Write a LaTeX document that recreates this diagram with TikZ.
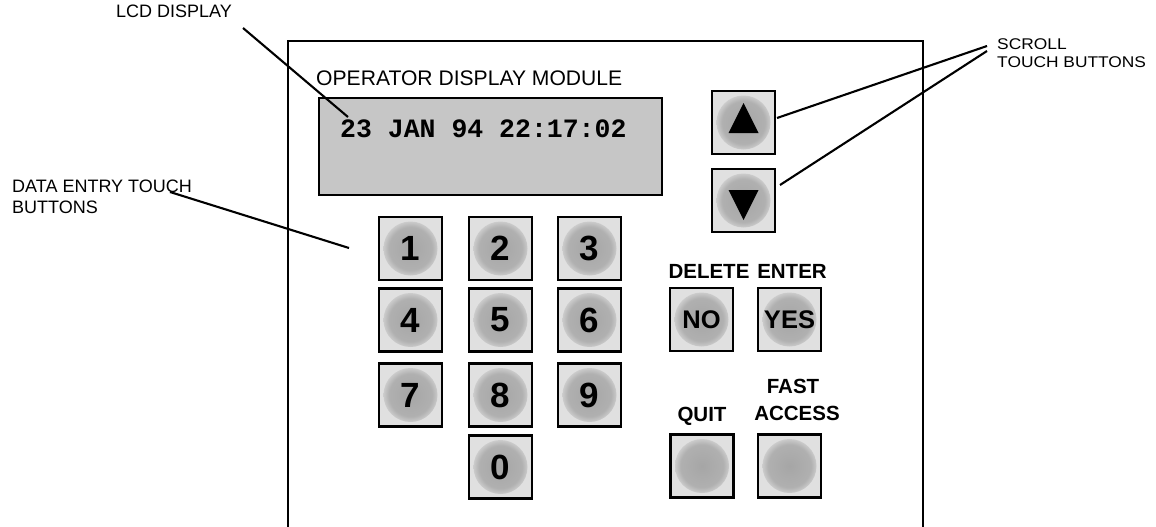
\documentclass[tikz,border=0pt]{standalone}
\usepackage{fontspec}
\setmainfont{Liberation Sans}
\newfontfamily\lcdfont{Liberation Mono}
\newfontfamily\widesans[FakeStretch=1.12]{Liberation Sans}

% soft grey dot printed on each touch button
\pgfdeclareradialshading{keydot}{\pgfpoint{0bp}{0bp}}{%
  color(0bp)=(gray!70); color(17bp)=(gray!62); color(25bp)=(gray!24); color(50bp)=(gray!24)}

\tikzset{
  frame/.style={line width=2.2pt},
  lead/.style={line width=2.1pt},
  keybox/.style={draw, line width=2.4pt, fill=gray!24, minimum size=63pt, inner sep=0pt,
    path picture={\shade[shading=keydot] (path picture bounding box.center) circle[radius=27pt];}},
  numkey/.style={keybox, font=\fontsize{35}{35}\selectfont\bfseries},
  wordkey/.style={keybox, font=\fontsize{25.5}{26}\selectfont\bfseries},
  lbl/.style={inner sep=0pt, font=\fontsize{18}{21}\selectfont},
  widelbl/.style={inner sep=0pt, font=\widesans\fontsize{15.5}{17}\selectfont},
  keylbl/.style={inner sep=0pt, font=\fontsize{20.5}{23}\selectfont\bfseries},
  lcd/.style={draw, line width=2.6pt, fill=gray!45, minimum width=343pt, minimum height=97pt, inner sep=0pt},
}

\begin{document}
\begin{tikzpicture}[x=1pt, y=-1pt]
\useasboundingbox (0,0) rectangle (1156,527);

% module housing (open at the bottom)
\draw[frame] (288,527) -- (288,41) -- (923,41) -- (923,527);

% display
\node[inner sep=0pt, anchor=base west, font=\fontsize{21.1}{24}\selectfont] (title) at (316,85) {OPERATOR DISPLAY MODULE};
\node[lcd] (lcd) at (490.5,146.5) {};
\node[inner sep=0pt, anchor=base west, font=\lcdfont\bfseries\fontsize{26.5}{28}\selectfont] (clock) at (340,137) {23 JAN 94 22:17:02};

% numeric keypad
\node[numkey] (k1) at (410.5,248.5) {1};
\node[numkey] (k2) at (500.5,248.5) {2};
\node[numkey] (k3) at (589.5,248.5) {3};
\node[numkey] (k4) at (410.5,320) {4};
\node[numkey] (k5) at (500.5,320) {5};
\node[numkey] (k6) at (589.5,320) {6};
\node[numkey] (k7) at (410.5,395) {7};
\node[numkey] (k8) at (500.5,395) {8};
\node[numkey] (k9) at (589.5,395) {9};
\node[numkey] (k0) at (500.5,467) {0};

% scroll buttons
\node[keybox] (up) at (743.5,122.5) {};
\fill (up.center) ++(-15,10.5) -- ++(30,0) -- ++(-15,-30) -- cycle;
\node[keybox] (down) at (743.5,200.5) {};
\fill (down.center) ++(-15,-10.5) -- ++(30,0) -- ++(-15,30) -- cycle;

% command buttons
\node[wordkey] (no) at (701.5,319.5) {NO};
\node[wordkey] (yes) at (789.5,319.5) {YES};
\node[keybox] (quit) at (702,466) {};
\node[keybox] (fast) at (789.5,466) {};

\node[keylbl, anchor=base] (dellbl) at (709,278) {DELETE};
\node[keylbl, anchor=base] (entlbl) at (792,278) {ENTER};
\node[keylbl, anchor=base] (quitlbl) at (702,421) {QUIT};
\node[keylbl, anchor=base] (fastlbl) at (793,393) {FAST};
\node[keylbl, anchor=base] (acclbl) at (797,420) {ACCESS};

% callouts
\node[lbl, anchor=base west] (lcdlbl) at (116,18) {LCD DISPLAY};
\node[lbl, anchor=base west] (datalbl) at (12,192) {DATA ENTRY TOUCH};
\node[lbl, anchor=base west] (datalblb) at (12,213) {BUTTONS};
\node[widelbl, anchor=base west] (scrlbl) at (997,50) {SCROLL};
\node[widelbl, anchor=base west] (scrlblb) at (997,67) {TOUCH BUTTONS};

\coordinate (lcdfrom) at (243,28);
\coordinate (lcdto) at (348,117);
\coordinate (datafrom) at (170,192);
\coordinate (datato) at (349,248);
\coordinate (scrfromA) at (987,46);
\coordinate (scrfromB) at (987,51);
\coordinate (upto) at (777,118);
\coordinate (downto) at (780,185);

\draw[lead] (lcdfrom) -- (lcdto);
\draw[lead] (datafrom) -- (datato);
\draw[lead] (scrfromA) -- (upto);
\draw[lead] (scrfromB) -- (downto);
\end{tikzpicture}
\end{document}
